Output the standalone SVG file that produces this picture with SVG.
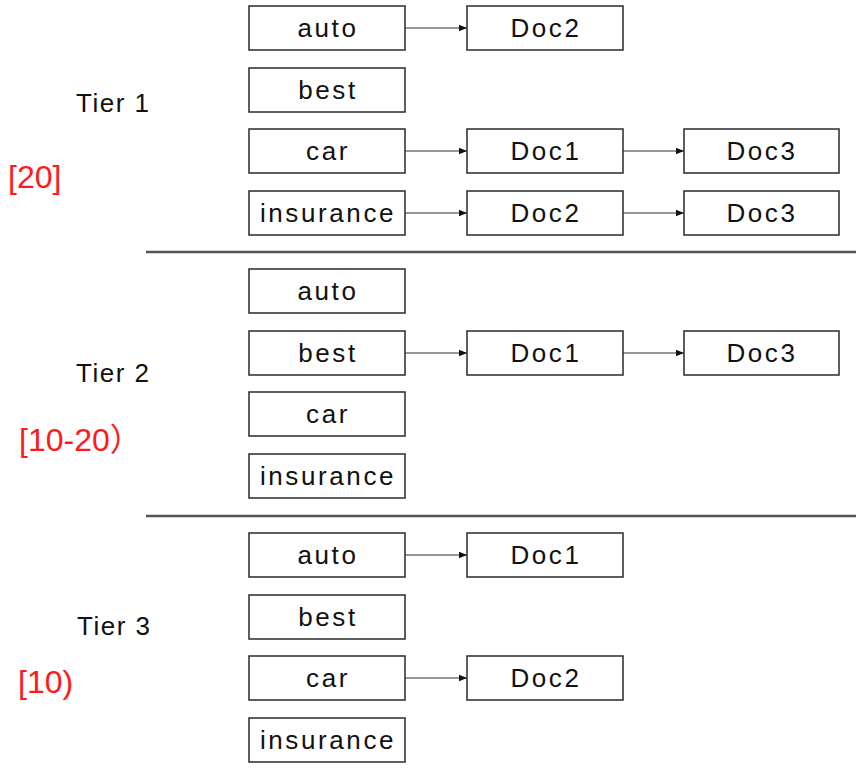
<svg xmlns="http://www.w3.org/2000/svg" width="861" height="771" viewBox="0 0 861 771">
<defs>
<style>
.box{fill:#fff;stroke:#2a2a2a;stroke-width:1.5}
.t{font-family:"Liberation Sans",Arial,sans-serif;font-size:26px;letter-spacing:2.6px;fill:#111;text-anchor:middle}
.tier{font-family:"Liberation Sans",Arial,sans-serif;font-size:26px;letter-spacing:1.5px;fill:#111}
.red{font-family:"Liberation Sans",Arial,"Noto Sans CJK SC",sans-serif;font-size:32px;fill:#ff1a1a}
.sep{stroke:#555;stroke-width:2.5}
.arr{stroke:#333;stroke-width:1.2;fill:none;marker-end:url(#ah)}
</style>
<marker id="ah" viewBox="0 0 10 10" refX="10" refY="5" markerWidth="8" markerHeight="8" markerUnits="userSpaceOnUse" orient="auto">
<path d="M0,1 L10,5 L0,9 Z" fill="#111"/>
</marker>
</defs>
<g id="labels">
<text class="tier" x="76" y="112">Tier 1</text>
<text class="red" x="8" y="188">[20]</text>
<text class="tier" x="76" y="382">Tier 2</text>
<text class="red" x="19" y="451">[10-20）</text>
<text class="tier" x="77" y="635">Tier 3</text>
<text class="red" x="18" y="693">[10)</text>
</g>
<g id="separators">
<line class="sep" x1="146" y1="252" x2="856" y2="252"/>
<line class="sep" x1="146" y1="516" x2="856" y2="516"/>
</g>
<g id="connectors">
<line class="arr" x1="405" y1="28" x2="467" y2="28"/>
<line class="arr" x1="405" y1="151" x2="467" y2="151"/>
<line class="arr" x1="623" y1="151" x2="684" y2="151"/>
<line class="arr" x1="405" y1="213" x2="467" y2="213"/>
<line class="arr" x1="623" y1="213" x2="684" y2="213"/>
<line class="arr" x1="405" y1="353" x2="467" y2="353"/>
<line class="arr" x1="623" y1="353" x2="684" y2="353"/>
<line class="arr" x1="405" y1="555" x2="467" y2="555"/>
<line class="arr" x1="405" y1="678" x2="467" y2="678"/>
</g>
<g id="t1-auto"><rect class="box" x="249" y="6" width="156" height="44"/><text class="t" x="328" y="37">auto</text></g>
<g id="t1-best"><rect class="box" x="249" y="68" width="156" height="44"/><text class="t" x="328" y="99">best</text></g>
<g id="t1-car"><rect class="box" x="249" y="129" width="156" height="44"/><text class="t" x="328" y="160">car</text></g>
<g id="t1-insurance"><rect class="box" x="249" y="191" width="156" height="44"/><text class="t" x="328" y="222">insurance</text></g>
<g id="t1-auto-doc2"><rect class="box" x="467" y="6" width="156" height="44"/><text class="t" x="546" y="37">Doc2</text></g>
<g id="t1-car-doc1"><rect class="box" x="467" y="129" width="156" height="44"/><text class="t" x="546" y="160">Doc1</text></g>
<g id="t1-car-doc3"><rect class="box" x="684" y="129" width="155" height="44"/><text class="t" x="762" y="160">Doc3</text></g>
<g id="t1-ins-doc2"><rect class="box" x="467" y="191" width="156" height="44"/><text class="t" x="546" y="222">Doc2</text></g>
<g id="t1-ins-doc3"><rect class="box" x="684" y="191" width="155" height="44"/><text class="t" x="762" y="222">Doc3</text></g>
<g id="t2-auto"><rect class="box" x="249" y="269" width="156" height="44"/><text class="t" x="328" y="300">auto</text></g>
<g id="t2-best"><rect class="box" x="249" y="331" width="156" height="44"/><text class="t" x="328" y="362">best</text></g>
<g id="t2-car"><rect class="box" x="249" y="392" width="156" height="44"/><text class="t" x="328" y="423">car</text></g>
<g id="t2-insurance"><rect class="box" x="249" y="454" width="156" height="44"/><text class="t" x="328" y="485">insurance</text></g>
<g id="t2-best-doc1"><rect class="box" x="467" y="331" width="156" height="44"/><text class="t" x="546" y="362">Doc1</text></g>
<g id="t2-best-doc3"><rect class="box" x="684" y="331" width="155" height="44"/><text class="t" x="762" y="362">Doc3</text></g>
<g id="t3-auto"><rect class="box" x="249" y="533" width="156" height="44"/><text class="t" x="328" y="564">auto</text></g>
<g id="t3-best"><rect class="box" x="249" y="595" width="156" height="44"/><text class="t" x="328" y="626">best</text></g>
<g id="t3-car"><rect class="box" x="249" y="656" width="156" height="44"/><text class="t" x="328" y="687">car</text></g>
<g id="t3-insurance"><rect class="box" x="249" y="718" width="156" height="44"/><text class="t" x="328" y="749">insurance</text></g>
<g id="t3-auto-doc1"><rect class="box" x="467" y="533" width="156" height="44"/><text class="t" x="546" y="564">Doc1</text></g>
<g id="t3-car-doc2"><rect class="box" x="467" y="656" width="156" height="44"/><text class="t" x="546" y="687">Doc2</text></g>
</svg>
